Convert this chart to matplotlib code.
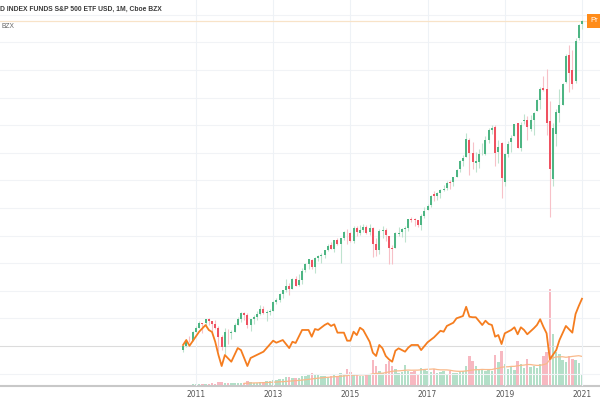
import numpy as np
import pandas as pd
import matplotlib
matplotlib.use('Agg')
import matplotlib.pyplot as plt
import matplotlib.transforms as mtransforms

# monthly candles, Sep 2010 .. Jan 2021
dates = pd.date_range('2010-09-01', periods=125, freq='MS')

opens = [101.5, 104.9, 108.8, 108.9,
         115.4, 118.3, 121.9, 122.0, 125.2, 123.4, 121.2, 118.6, 111.8, 103.8, 114.8, 114.4,
         115.5, 120.4, 125.3, 129.2, 128.2, 120.2, 125.0, 126.5, 129.0, 132.2, 129.6, 129.9,
         130.8, 137.4, 139.0, 144.0, 146.6, 149.7, 147.7, 155.0, 150.1, 154.3, 161.4, 165.7,
         169.3, 163.6, 170.4, 171.9, 172.9, 176.5, 180.0, 177.0, 183.9, 180.9, 185.2, 189.5,
         188.9, 183.2, 193.1, 189.4, 191.5, 193.4, 189.6, 193.1, 180.7, 176.1, 190.9, 191.1,
         187.0, 177.7, 177.7, 188.7, 189.7, 192.1, 192.6, 199.4, 199.2, 198.6, 195.3, 201.9,
         206.6, 209.7, 218.4, 216.7, 219.1, 221.6, 223.1, 227.3, 227.0, 231.3, 237.0, 242.7,
         246.2, 258.4, 249.1, 241.6, 242.5, 249.4, 248.2, 258.8, 266.2, 268.5, 249.3, 256.0,
         227.2, 247.9, 256.7, 261.3, 270.9, 252.4, 272.6, 273.4, 266.9, 273.7, 279.9, 288.4,
         297.7, 296.9, 272.9, 229.2, 263.2, 278.8, 284.9, 301.7, 321.8, 310.6, 302.4, 334.5,
         345.4]
highs = [105.6, 109.7, 112.6, 115.8,
         119.5, 123.3, 122.2, 125.2, 125.7, 123.5, 124.4, 119.9, 112.8, 118.6, 117.2, 116.5,
         122.3, 126.4, 130.2, 130.5, 129.8, 125.1, 127.7, 130.9, 135.3, 134.9, 131.6, 132.8,
         138.5, 140.5, 144.1, 146.6, 154.8, 151.8, 155.9, 156.9, 158.7, 162.9, 166.4, 169.7,
         169.8, 171.4, 172.8, 174.1, 176.5, 180.6, 182.7, 183.9, 185.3, 185.2, 190.4, 192.1,
         190.1, 194.5, 194.3, 195.0, 195.8, 195.4, 195.7, 193.8, 185.4, 192.1, 194.2, 193.0,
         187.0, 180.1, 190.1, 193.7, 193.0, 194.5, 199.7, 201.3, 200.7, 199.0, 203.1, 208.9,
         211.1, 217.6, 220.3, 220.0, 221.9, 225.1, 227.9, 228.5, 231.1, 237.0, 243.8, 247.2,
         263.6, 260.2, 257.1, 249.3, 251.6, 256.1, 261.3, 267.6, 269.8, 269.7, 258.3, 256.9,
         248.5, 258.1, 262.4, 270.6, 271.0, 271.9, 277.8, 276.5, 277.2, 279.8, 289.4, 298.0,
         306.2, 311.3, 287.8, 271.1, 281.5, 296.6, 300.9, 322.5, 329.2, 325.7, 334.5, 345.0,
         348.0]
lows = [100.3, 103.8, 107.6, 108.9,
        115.4, 118.3, 114.6, 118.8, 120.3, 115.4, 117.7, 101.1, 102.2, 98.6, 106.3, 110.3,
        115.5, 120.4, 122.9, 124.5, 118.4, 116.2, 121.6, 124.3, 128.1, 128.7, 123.2, 128.3,
        130.8, 136.2, 137.8, 140.9, 145.1, 143.1, 147.2, 149.3, 149.9, 151.1, 160.2, 162.2,
        162.4, 159.4, 168.3, 166.5, 170.6, 175.8, 177.1, 174.8, 180.2, 167.0, 183.6, 181.0,
        182.4, 181.7, 187.1, 187.9, 189.7, 188.7, 187.5, 171.3, 171.7, 173.7, 185.3, 182.9,
        166.3, 166.1, 177.7, 186.6, 185.9, 182.7, 190.3, 197.0, 194.4, 194.0, 191.2, 200.7,
        206.0, 208.4, 213.1, 213.7, 215.1, 220.7, 220.9, 221.8, 224.5, 231.2, 234.6, 239.0,
        246.1, 232.4, 237.2, 234.3, 238.0, 247.0, 247.6, 256.5, 262.8, 238.9, 241.4, 215.3,
        224.2, 246.0, 249.8, 261.3, 252.3, 250.4, 270.8, 258.9, 265.3, 262.0, 279.9, 281.7,
        294.9, 262.0, 201.1, 224.5, 253.8, 272.1, 284.5, 301.3, 294.4, 296.7, 300.9, 333.3,
        341.0]
closes = [104.7, 108.6, 108.3, 115.4,
          118.0, 121.8, 121.6, 125.1, 123.4, 121.2, 118.6, 111.8, 103.8, 115.0, 114.4, 115.4,
          120.4, 125.3, 129.2, 128.2, 120.2, 125.0, 126.5, 129.0, 132.2, 129.6, 129.9, 130.8,
          137.4, 139.0, 144.0, 146.6, 149.6, 147.4, 154.7, 149.8, 154.3, 161.1, 165.7, 169.6,
          163.5, 170.6, 171.8, 172.8, 176.5, 179.8, 177.1, 183.8, 180.9, 185.1, 189.7, 188.9,
          183.0, 193.1, 189.7, 191.3, 193.3, 189.3, 193.0, 180.9, 176.1, 190.8, 190.9, 187.5,
          178.0, 177.3, 189.0, 189.5, 192.4, 192.6, 199.4, 199.2, 198.9, 195.1, 201.7, 205.4,
          209.1, 216.8, 216.8, 218.7, 221.3, 222.3, 226.6, 226.8, 231.1, 236.3, 242.9, 245.3,
          259.1, 249.0, 242.3, 242.9, 248.2, 249.4, 258.4, 266.2, 267.3, 248.8, 253.2, 230.0,
          248.1, 255.5, 260.0, 270.3, 252.5, 269.9, 273.4, 268.5, 273.1, 278.7, 288.2, 296.4,
          295.9, 271.0, 237.1, 267.2, 279.3, 284.4, 300.1, 321.1, 308.5, 300.0, 332.3, 344.6,
          347.6]
volume = [1, 1.5, 1.5, 2,
          2, 2, 2.5, 2, 2, 3, 2.5, 4.5, 4, 3.5, 3, 3,
          3, 3, 3.5, 3.5, 5, 4, 3.5, 3.5, 4, 4, 5, 5,
          6, 6, 7, 7, 9, 9, 8, 8, 8, 10, 10, 11,
          13, 12, 11, 10, 10, 9, 10, 11, 10, 13, 11, 17,
          14, 11, 12, 10, 10, 12, 12, 26, 20, 15, 13, 22,
          25, 20, 17, 13, 14, 21, 15, 14, 15, 12, 18, 16,
          15, 14, 17, 13, 14, 15, 12, 15, 13, 13, 14, 15,
          20, 30, 25, 20, 16, 17, 15, 16, 15, 31, 24, 35,
          22, 17, 19, 16, 25, 22, 18, 27, 19, 20, 18, 22,
          30, 34, 97, 52, 34, 32, 26, 24, 30, 27, 26, 23,
          11]

# compare symbol line (month index, value)
cmp_month = [0, 1, 2, 5, 7, 8, 9, 10, 11, 12, 13, 15, 17, 18, 20, 21, 25, 28, 29, 31,
             33, 34, 35, 37, 39, 40, 41, 42, 44, 45, 46, 47, 48, 50, 51, 52, 53, 54, 55, 56,
             58, 59, 60, 61, 62, 63, 64, 65, 66, 67, 69, 70, 71, 73, 74, 76, 78, 80, 81, 82,
             84, 85, 87, 88, 89, 90, 91, 93, 94, 95, 96, 97, 98, 99, 100, 102, 103, 104, 105, 106,
             107, 109, 110, 111, 112, 113, 114, 116, 117, 119, 120, 121, 122, 123, 124]
cmp_value = [105.6, 109.3, 105.0, 115.5, 120.5, 116.8, 115.3, 108.0, 98.1, 89.9, 98.1, 93.1, 103.3, 101.8, 89.9, 95.9, 100.6, 108.8, 107.3, 109.3,
             103.3, 108.0, 107.1, 116.8, 116.8, 111.8, 117.5, 116.8, 120.5, 121.8, 119.8, 121.0, 114.8, 114.8, 108.8, 108.8, 115.5, 113.0, 118.5, 116.8,
             108.0, 99.8, 97.4, 105.6, 103.1, 97.4, 94.9, 93.1, 101.3, 103.1, 100.6, 103.6, 105.6, 105.6, 101.8, 107.6, 111.3, 116.2, 115.5, 119.8,
             122.2, 125.5, 127.2, 134.1, 126.7, 126.3, 126.3, 120.5, 123.7, 121.3, 120.5, 111.8, 113.0, 106.3, 114.3, 116.8, 118.8, 113.6, 118.8, 116.8,
             113.6, 118.0, 120.5, 124.8, 119.2, 114.3, 94.9, 101.8, 109.3, 119.8, 117.3, 114.8, 128.7, 134.7, 140.1]

up_body, dn_body = '#4db583', '#ef5261'
up_wick, dn_wick = '#bfe3cf', '#f7c1c8'
up_vol, dn_vol = '#b3dfc8', '#f7b8c1'

x = np.arange(len(dates))
o = np.array(opens); h = np.array(highs); l = np.array(lows); c = np.array(closes)
up = c >= o

fig = plt.figure(figsize=(6, 4), dpi=100)
rect = [0, 14 / 400, 1, 386 / 400]
vax = fig.add_axes(rect)
ax = vax.twinx()

# volume + its 20 bar average
vax.bar(x, volume, width=0.75, color=np.where(up, up_vol, dn_vol), zorder=1)
vol_ma = pd.Series(volume).rolling(20).mean()
vax.plot(x, vol_ma, color='#f9b98a', lw=0.9, zorder=2)
vax.set_ylim(0, 386)

# grid
grid_base, grid_step = 104.8, 20.6
for k in range(-1, 13):
    g = grid_base + k * grid_step
    ax.axhline(g, color='#dcdcdc' if k == 0 else '#f1f3f6', lw=0.8, zorder=0)
years = [i for i, d in enumerate(dates) if d.month == 1 and d.year % 2 == 1]
for i in years:
    ax.axvline(i, color='#eef2f6', lw=0.8, zorder=0)

# candles
ax.vlines(x, l, h, colors=np.where(up, up_wick, dn_wick), lw=0.8, zorder=3)
body = np.maximum(np.abs(c - o), 0.4)
ax.bar(x, body, bottom=np.minimum(o, c), width=0.62,
       color=np.where(up, up_body, dn_body), zorder=4)

# compare line
ax.plot(cmp_month, cmp_value, color='#f57d1f', lw=1.3, zorder=5)

# last price line and label
ax.axhline(closes[-1], color='#f8e3c8', lw=0.9, zorder=2)
trans = mtransforms.blended_transform_factory(ax.transAxes, ax.transData)
ax.text(0.984, closes[-1], 'Pr', transform=trans, fontsize=5.5, color='white',
        va='center', ha='left', family='Liberation Sans',
        bbox=dict(boxstyle='square,pad=0.45', fc='#ff8c1a', ec='none'), zorder=6)

ax.set_xlim(-56.9, 129.6)
ax.set_ylim(75.0, 363.0)
ax.set_yticks([])
vax.set_yticks([])
vax.set_xticks(years)
vax.set_xticklabels([str(dates[i].year) for i in years])
vax.tick_params(axis='x', length=0, pad=3, labelsize=5.5, labelcolor='#555555')
for a in (ax, vax):
    for s in ('top', 'left', 'right'):
        a.spines[s].set_visible(False)
ax.spines['bottom'].set_visible(False)
vax.spines['bottom'].set_color('#c8c8c8')
vax.spines['bottom'].set_linewidth(1.5)

fig.text(0.0, 1 - 9 / 400, 'D INDEX FUNDS S&P 500 ETF USD, 1M, Cboe BZX',
         fontsize=4.9, fontweight='bold', color='#3a3a3a', va='center', ha='left',
         family='Liberation Sans')
fig.text(2 / 600, 1 - 27 / 400, 'BZX', fontsize=4.8, color='#666666', va='center',
         ha='left', family='Liberation Sans')

fig.savefig('out.png', dpi=100)
